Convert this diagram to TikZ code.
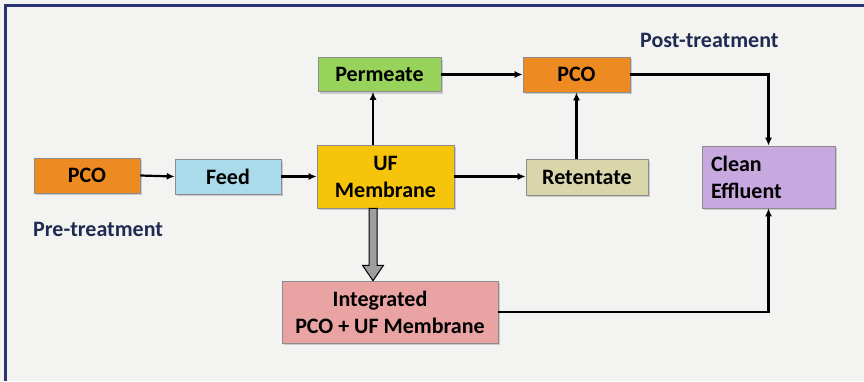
\documentclass[tikz,border=0pt]{standalone}
\usepackage{fontspec}
\setmainfont{Carlito}
\usetikzlibrary{calc,shadows,arrows.meta}
\definecolor{bgc}{HTML}{F3F3F2}
\definecolor{framec}{HTML}{2B3478}
\definecolor{labc}{HTML}{1F2B50}
\definecolor{orangec}{HTML}{EE8A22}
\definecolor{bluec}{HTML}{A9DBEA}
\definecolor{yellowc}{HTML}{F7C40C}
\definecolor{greenc}{HTML}{97D35A}
\definecolor{khakic}{HTML}{DAD6AC}
\definecolor{purplec}{HTML}{C7A8DF}
\definecolor{pinkc}{HTML}{E9A3A3}
\tikzset{
  box/.style={draw=black!45, line width=0.6pt, inner sep=0pt, align=center,
    font=\bfseries\fontsize{22}{24}\selectfont,
    drop shadow={shadow xshift=2pt, shadow yshift=-2pt, opacity=0.35}},
  arr/.style={draw=black, line width=2.2pt, -{Latex[length=8pt,width=7pt]}},
  lab/.style={text=labc, font=\bfseries\fontsize{22}{24}\selectfont, inner sep=0pt}
}
\begin{document}
\begin{tikzpicture}[x=1pt,y=-1pt]
\useasboundingbox (0,0) rectangle (864,381);
\fill[bgc] (0,0) rectangle (864,381);
\draw[framec, line width=3pt] (5.5,381) -- (5.5,5.5) -- (864,5.5);

\node[box, fill=orangec, minimum width=106pt, minimum height=35pt] (pco1) at (87,175.5) {PCO};
\node[box, fill=bluec, minimum width=106pt, minimum height=35pt] (feed) at (228,176.5) {Feed};
\node[box, fill=yellowc, minimum width=137pt, minimum height=63pt] (uf) at (385.5,176.5) {UF\\[3pt]Membrane};
\node[box, fill=greenc, minimum width=123pt, minimum height=34pt] (perm) at (379.5,74.5) {Permeate};
\node[box, fill=orangec, minimum width=107pt, minimum height=35pt] (pco2) at (576.5,74.5) {PCO};
\node[box, fill=khakic, minimum width=122pt, minimum height=36pt] (ret) at (587,177) {Retentate};
\node[box, fill=purplec, minimum width=133pt, minimum height=62pt, align=left, text width=115pt] (clean) at (768.5,177) {Clean\\[3pt]Effluent};
\node[box, fill=pinkc, minimum width=216pt, minimum height=62pt] (integ) at (390,312) {\hspace*{-20pt}Integrated\\[3pt]PCO + UF Membrane};

\node[lab, anchor=west] (post) at (640,40) {Post-treatment};
\node[lab, anchor=west] (pre) at (33,229) {Pre-treatment};

\draw[arr] (pco1.east) -- (feed.west);
\draw[arr] (feed.east) -- (feed.east -| uf.west);
\draw[arr] (uf.east) -- (uf.east -| ret.west);
\draw[arr] ([xshift=-12.5pt]uf.north) -- ([xshift=-12.5pt]uf.north |- perm.south);
\draw[arr] (perm.east) -- (pco2.west);
\draw[arr] (pco2.south |- ret.north) -- (pco2.south);
\draw[arr] (pco2.east) -| (clean.north);
\draw[arr] (integ.east) -| (clean.south);

% grey block arrow from UF to integrated
\draw[fill=black!38, draw=black, line width=1pt]
  ($(uf.south)+(-16.5,0)$) -- ($(uf.south)+(-16.5,57)$) -- ($(uf.south)+(-23,57)$)
  -- ($(uf.south |- integ.north)+(-12.5,0)$)
  -- ($(uf.south)+(-2,57)$) -- ($(uf.south)+(-8.5,57)$) -- ($(uf.south)+(-8.5,0)$) -- cycle;
\end{tikzpicture}
\end{document}
